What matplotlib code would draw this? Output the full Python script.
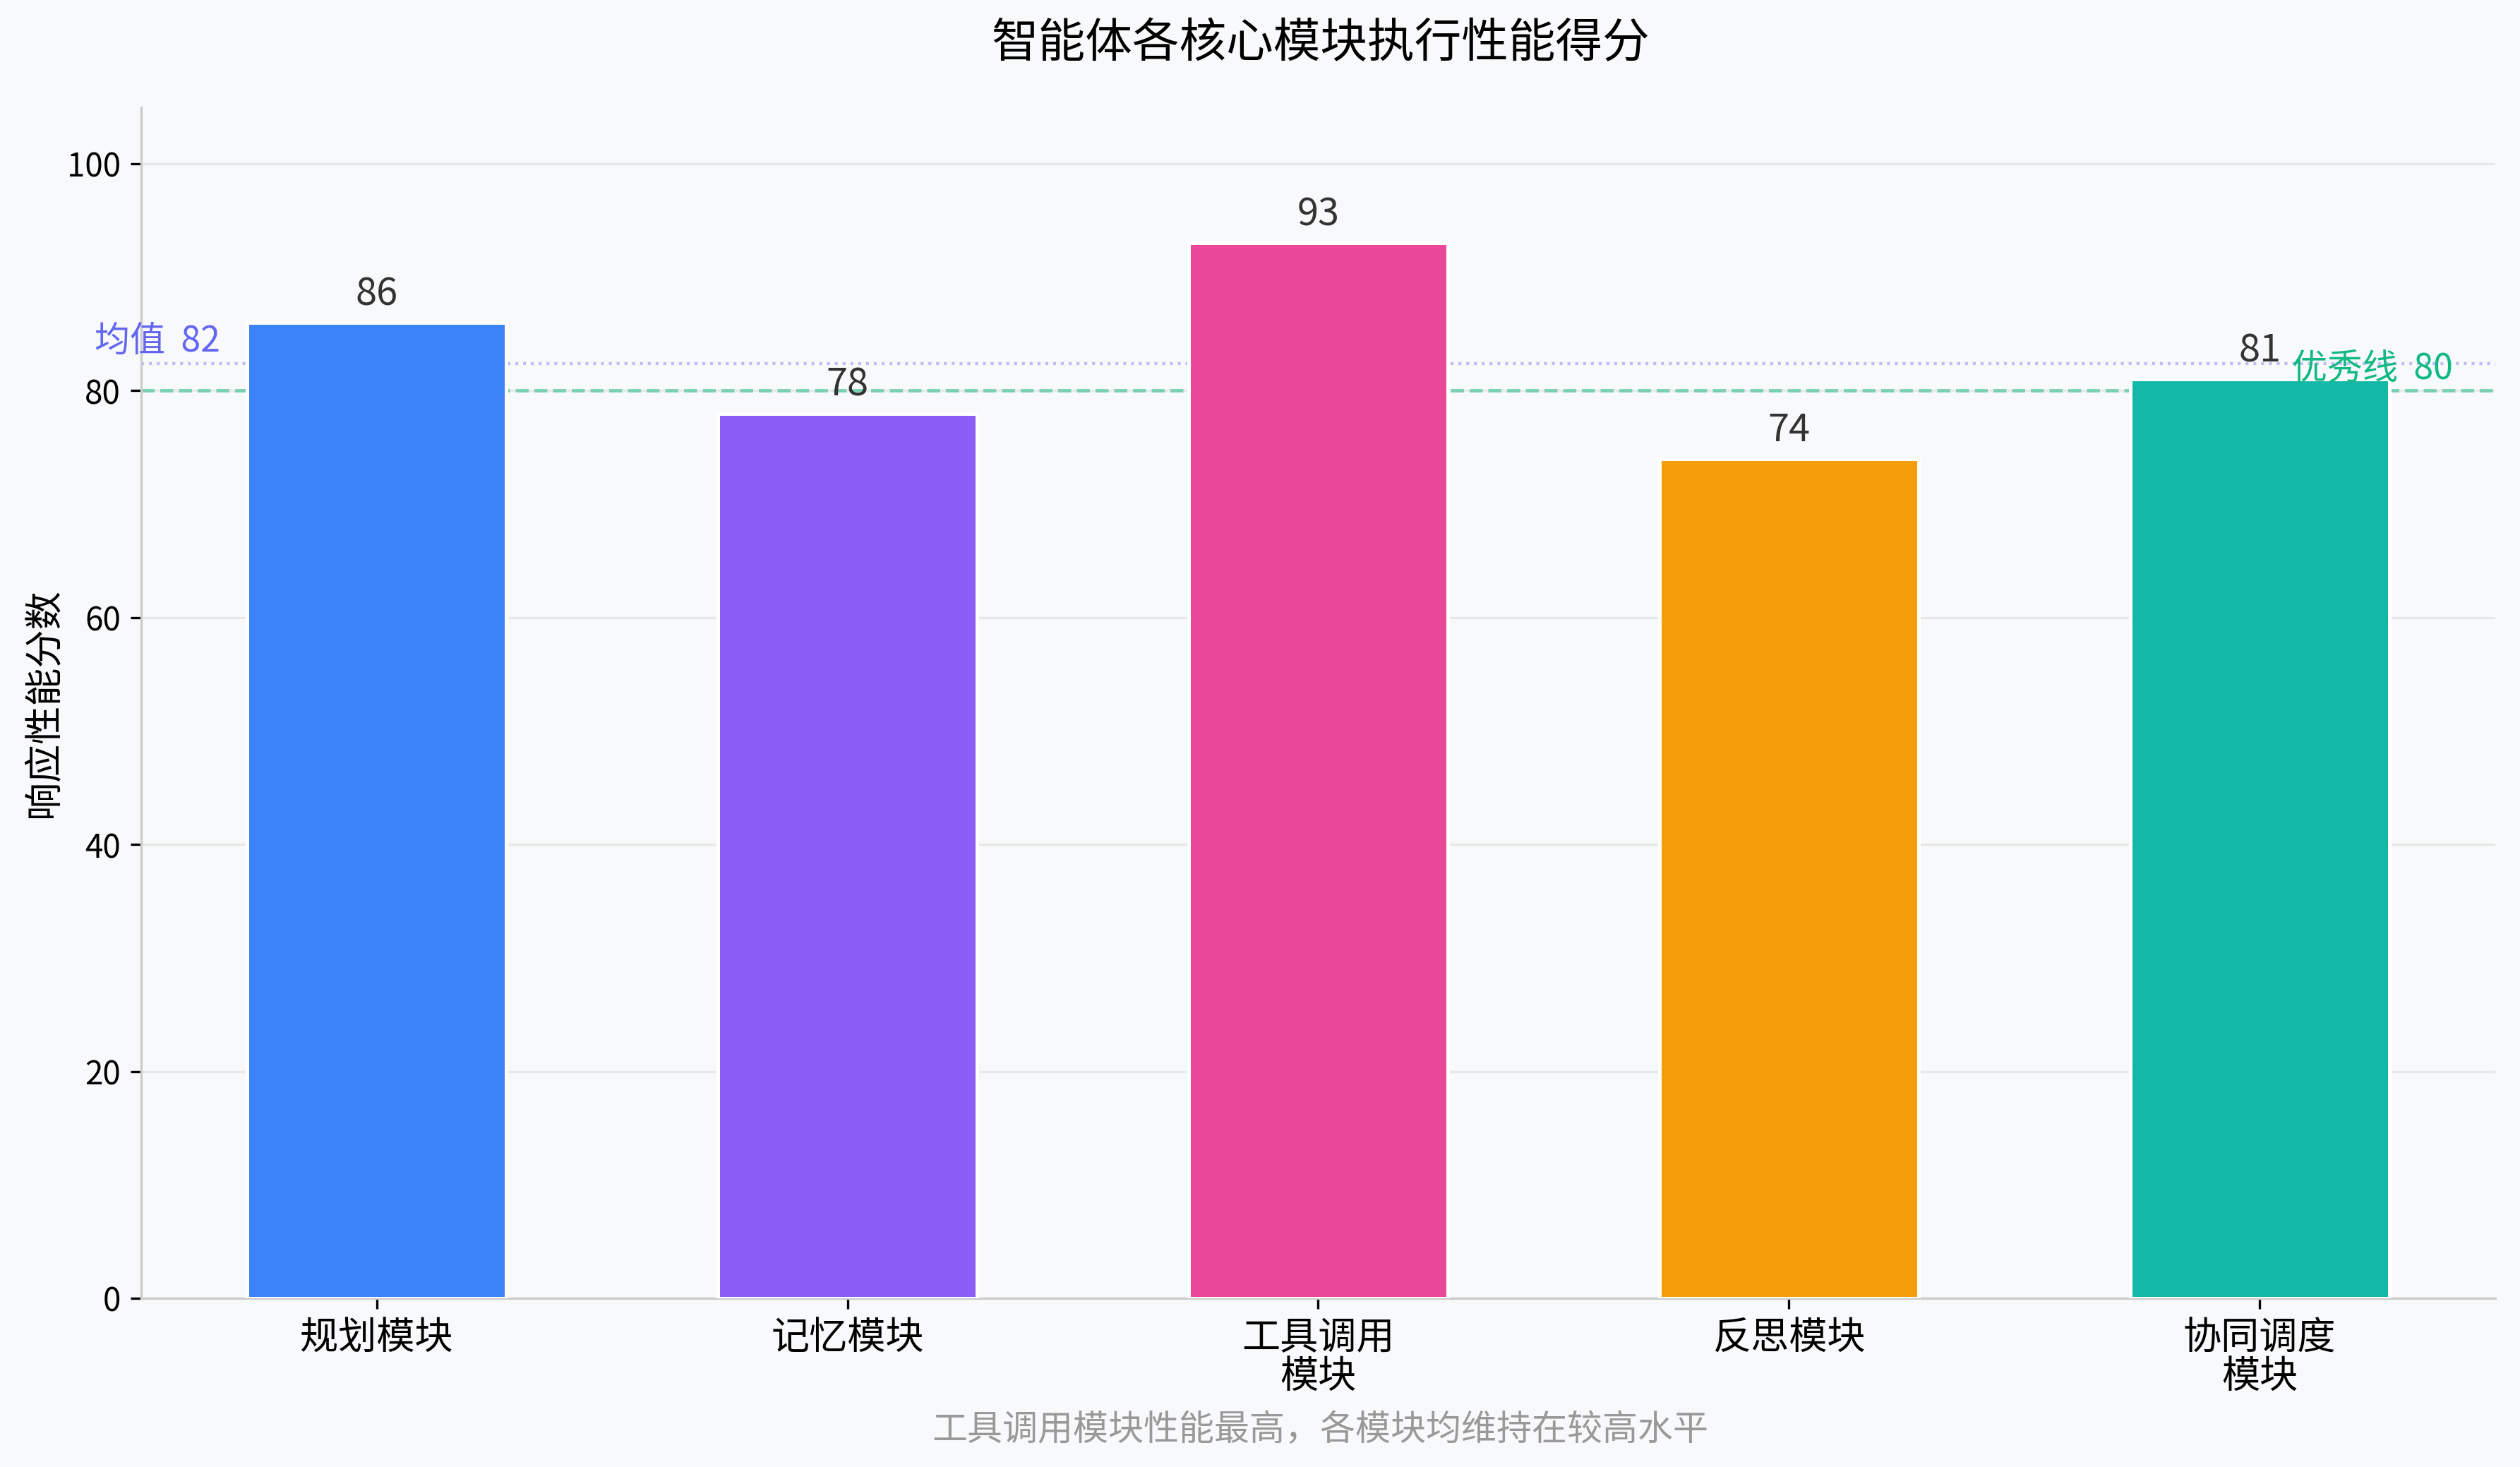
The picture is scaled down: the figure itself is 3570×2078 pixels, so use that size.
import matplotlib as mpl
import matplotlib.pyplot as plt
import numpy as np

# fontset
mpl.rcParams["font.family"] = ["Noto Sans CJK SC", "DejaVu Sans"]
mpl.rcParams["axes.unicode_minus"] = False

# data
modules = ["规划模块", "记忆模块", "工具调用\n模块", "反思模块", "协同调度\n模块"]
scores = [86, 78, 93, 74, 81]
colors = ["#3b82f6", "#8b5cf6", "#ec4899", "#f59e0b", "#14b8a6"]
excellent = 80
title = "智能体各核心模块执行性能得分"
ylabel = "响应性能分数"
caption = "工具调用模块性能最高，各模块均维持在较高水平"

bg = "#f8f9fb"
fig = plt.figure(figsize=(11.9, 6.927), dpi=300, facecolor=bg)
ax = fig.add_axes([0.0561, 0.115, 0.934, 0.812], facecolor=bg)

x = np.arange(len(modules))
ax.bar(x, scores, width=0.55, color=colors, edgecolor="white", linewidth=1.2, zorder=3)
for xi, v in zip(x, scores):
    ax.text(xi, v + 0.8, str(v), ha="center", va="bottom", fontsize=13, color="#333333", zorder=4)

mean = np.mean(scores)
ax.axhline(mean, color="#6366f1", alpha=0.4, linestyle=":", linewidth=1.0, zorder=2)
ax.axhline(excellent, color="#10b981", alpha=0.5, linestyle="--", linewidth=1.2, zorder=2)
ax.text(-0.6, mean + 0.3, f"均值  {mean:.0f}", color="#6366f1", fontsize=12, ha="left", va="bottom")
ax.text(4.41, excellent + 0.3, f"优秀线  {excellent}", color="#10b981", fontsize=12, ha="right", va="bottom", zorder=5)

ax.set_xlim(-0.5, 4.5)
ax.set_ylim(0, 105)
ax.set_yticks([0, 20, 40, 60, 80, 100])
ax.set_xticks(x)
ax.set_xticklabels(modules, fontsize=13, linespacing=1.0)
ax.tick_params(axis="y", labelsize=11)
ax.yaxis.grid(True, color="#e8e8e8", linewidth=0.8, zorder=0)
ax.set_axisbelow(True)
for s in ["top", "right"]:
    ax.spines[s].set_visible(False)
for s in ["left", "bottom"]:
    ax.spines[s].set_color("#cccccc")
ax.set_ylabel(ylabel, fontsize=13)
ax.yaxis.set_label_coords(-0.033, 0.5)

fig.text(0.524, 0.97, title, ha="center", va="center", fontsize=16)
fig.text(0.524, 0.025, caption, ha="center", va="center", fontsize=12, color="#999999")

fig.savefig("out.png", dpi=300, facecolor=bg)
